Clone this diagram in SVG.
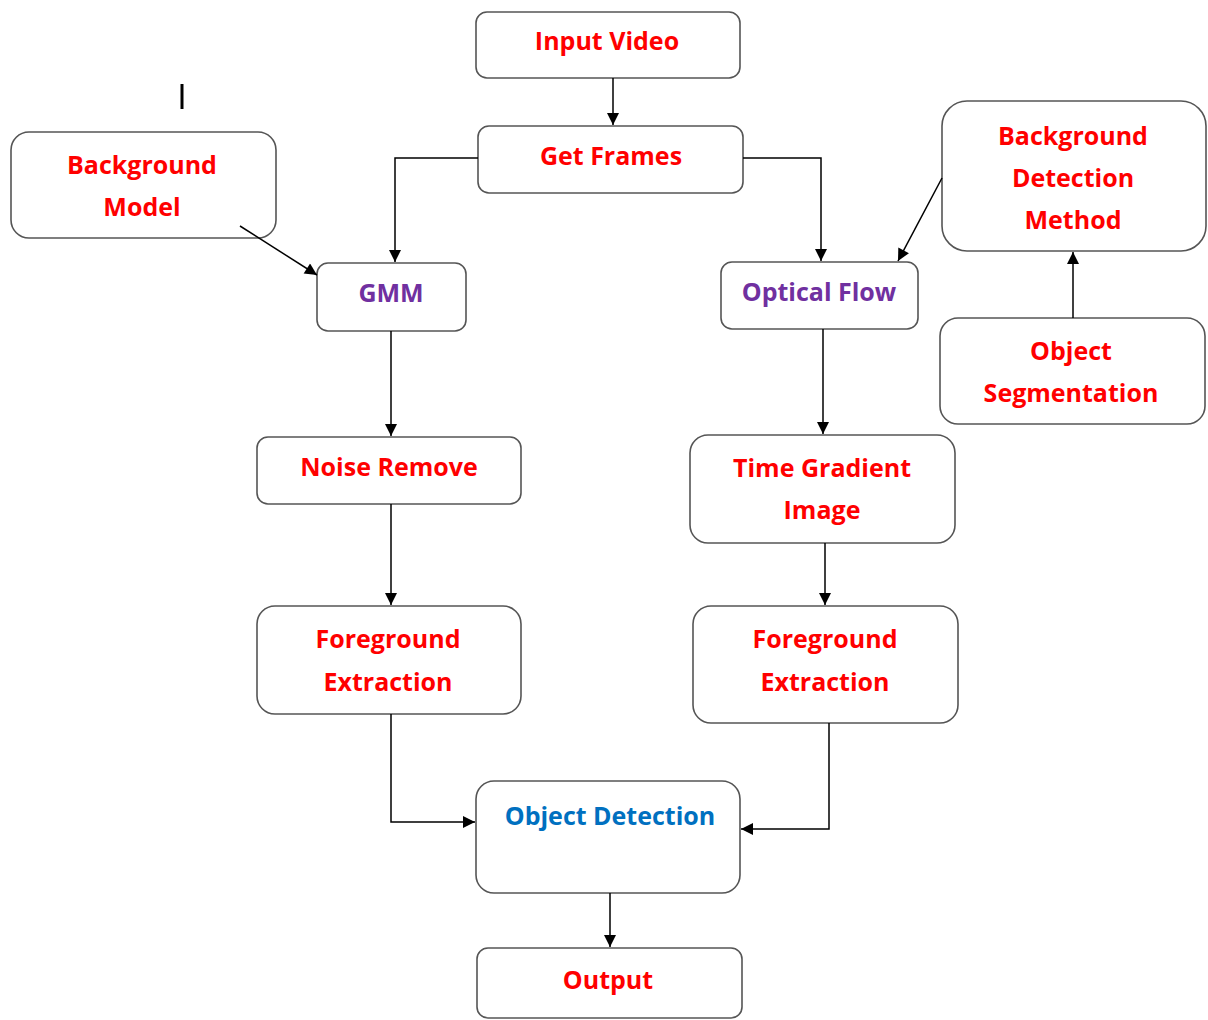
<svg xmlns="http://www.w3.org/2000/svg" width="1208" height="1020" viewBox="0 0 1208 1020">
<defs>
<marker id="ah" viewBox="0 0 10 10" refX="10" refY="5" markerWidth="13" markerHeight="12" markerUnits="userSpaceOnUse" orient="auto">
<path d="M0,0 L10,5 L0,10 z" fill="#000"/>
</marker>
</defs>
<style>
.box{fill:#fff;stroke:#555;stroke-width:1.6}
.t{font-family:"Open Sans","Noto Sans","Liberation Sans",sans-serif;font-weight:bold;font-size:25px;text-anchor:middle;letter-spacing:0}
.r{fill:#ff0000}
.p{fill:#7030a0}
.b{fill:#0070c0}
.c{fill:none;stroke:#000;stroke-width:1.5;marker-end:url(#ah)}
</style>
<rect width="1208" height="1020" fill="#fff"/>
<line x1="182" y1="84" x2="182" y2="109" stroke="#000" stroke-width="3"/>
<g id="input-video"><rect class="box" x="476" y="12" width="264" height="66" rx="11"/><text class="t r" x="607" y="50">Input Video</text></g>
<g id="get-frames"><rect class="box" x="478" y="126" width="265" height="67" rx="11"/><text class="t r" x="611" y="165">Get Frames</text></g>
<g id="background-model"><rect class="box" x="11" y="132" width="265" height="106" rx="18"/><text class="t r" x="142" y="174">Background</text><text class="t r" x="142" y="216">Model</text></g>
<g id="gmm"><rect class="box" x="317" y="263" width="149" height="68" rx="11"/><text class="t p" x="391" y="302">GMM</text></g>
<g id="optical-flow"><rect class="box" x="721" y="262" width="197" height="67" rx="11"/><text class="t p" x="819" y="301">Optical Flow</text></g>
<g id="background-detection-method"><rect class="box" x="942" y="101" width="264" height="150" rx="25"/><text class="t r" x="1073" y="145">Background</text><text class="t r" x="1073" y="187">Detection</text><text class="t r" x="1073" y="229">Method</text></g>
<g id="object-segmentation"><rect class="box" x="940" y="318" width="265" height="106" rx="18"/><text class="t r" x="1071" y="360">Object</text><text class="t r" x="1071" y="402">Segmentation</text></g>
<g id="noise-remove"><rect class="box" x="257" y="437" width="264" height="67" rx="11"/><text class="t r" x="389" y="476">Noise Remove</text></g>
<g id="time-gradient-image"><rect class="box" x="690" y="435" width="265" height="108" rx="18"/><text class="t r" x="822" y="477">Time Gradient</text><text class="t r" x="822" y="519">Image</text></g>
<g id="foreground-extraction-left"><rect class="box" x="257" y="606" width="264" height="108" rx="18"/><text class="t r" x="388" y="648">Foreground</text><text class="t r" x="388" y="691">Extraction</text></g>
<g id="foreground-extraction-right"><rect class="box" x="693" y="606" width="265" height="117" rx="18"/><text class="t r" x="825" y="648">Foreground</text><text class="t r" x="825" y="691">Extraction</text></g>
<g id="object-detection"><rect class="box" x="476" y="781" width="264" height="112" rx="18"/><text class="t b" x="610" y="825">Object Detection</text></g>
<g id="output"><rect class="box" x="477" y="948" width="265" height="70" rx="11"/><text class="t r" x="608" y="989">Output</text></g>
<g id="connectors">
<path class="c" d="M613,78 V125"/>
<path class="c" d="M478,158 H395 V262"/>
<path class="c" d="M743,158 H821 V261"/>
<path class="c" d="M240,226 L317,275"/>
<path class="c" d="M942,178 L898,261"/>
<path class="c" d="M1073,318 V252"/>
<path class="c" d="M391,331 V436"/>
<path class="c" d="M823,329 V434"/>
<path class="c" d="M391,504 V605"/>
<path class="c" d="M825,543 V605"/>
<path class="c" d="M391,714 V822 H475"/>
<path class="c" d="M829,723 V829 H741"/>
<path class="c" d="M610,893 V947"/>
</g>
</svg>
